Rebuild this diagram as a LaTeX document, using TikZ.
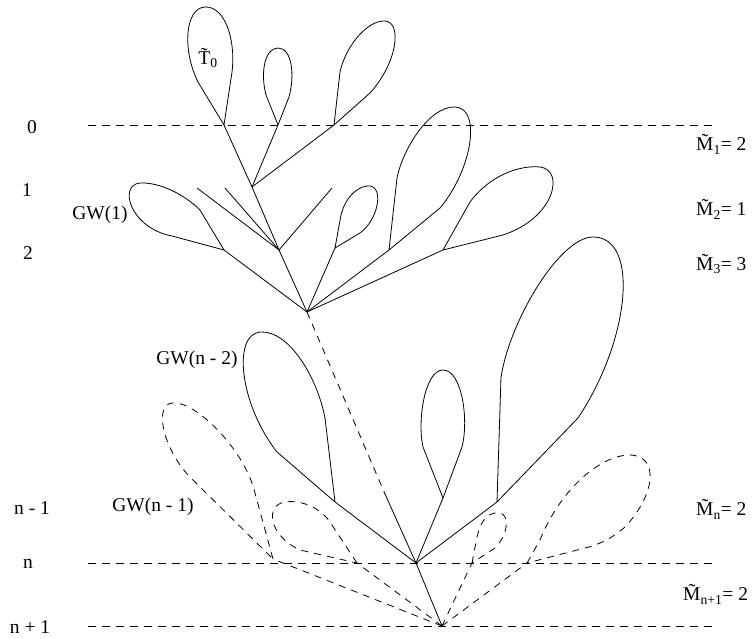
\documentclass[tikz,border=0pt]{standalone}
\usepackage{fontspec}
\setmainfont{Liberation Serif}
\begin{document}
\begin{tikzpicture}[x=1pt,y=-1pt,
  edge/.style={line width=0.8pt},
  dedge/.style={line width=0.8pt, dash pattern=on 7pt off 6pt},
  levline/.style={line width=0.8pt, dash pattern=on 8pt off 6pt},
  lbl/.style={font=\fontsize{19.5}{22}\selectfont, inner sep=0pt}]
\useasboundingbox (0,0) rectangle (755,639);
% level lines
\coordinate (L0a) at (88,125); \coordinate (L0b) at (715,125);
\coordinate (Lna) at (88,563); \coordinate (Lnb) at (715,563);
\coordinate (Lma) at (88,626); \coordinate (Lmb) at (712,626);
\draw[levline] (L0a) -- (L0b);
\draw[levline] (Lna) -- (Lnb);
\draw[levline] (Lma) -- (Lmb);
% tree points
\coordinate (a1) at (224,125); \coordinate (a2) at (278,125); \coordinate (a3) at (334,125);
\coordinate (N1) at (252,187); \coordinate (N2) at (279,250); \coordinate (R) at (307,312);
\coordinate (f1) at (197,188); \coordinate (f2) at (225,188); \coordinate (f3) at (332,188);
\coordinate (b1) at (224,250); \coordinate (b2) at (335,248); \coordinate (b3) at (389,250); \coordinate (b4) at (443,250);
\coordinate (mid) at (385,494); \coordinate (Rn) at (416,563); \coordinate (Rb) at (442,626);
\coordinate (c1) at (335,502); \coordinate (c2) at (443,498); \coordinate (c3) at (497,502);
\coordinate (d1) at (273,559); \coordinate (d2) at (357,563); \coordinate (d3) at (472,563); \coordinate (d4) at (527,563);
% edges
\draw[edge] (a1) -- (N1) -- (N2) -- (R);
\draw[edge] (N1) -- (a2);
\draw[edge] (N1) -- (a3);
\draw[edge] (N2) -- (f1);
\draw[edge] (N2) -- (f2);
\draw[edge] (N2) -- (f3);
\draw[edge] (R) -- (b1);
\draw[edge] (R) -- (b2);
\draw[edge] (R) -- (b3);
\draw[edge] (R) -- (b4);
\draw[dedge] (R) -- (mid);
\draw[edge] (mid) -- (Rn) -- (Rb);
\draw[edge] (Rn) -- (c1);
\draw[edge] (Rn) -- (c2);
\draw[edge] (Rn) -- (c3);
\draw[dedge] (Rb) -- (d1);
\draw[dedge] (Rb) -- (d2);
\draw[dedge] (Rb) -- (d3);
\draw[dedge] (Rb) -- (d4);
% solid loops
\draw[edge] (a1) -- (198,82) .. controls (182,50) and (185,8) .. (205,7) .. controls (225,6) and (236,40) .. (232,72) -- (a1);
\draw[edge] (a2) -- (266,95) .. controls (260,72) and (265,48) .. (278,48) .. controls (292,48) and (295,75) .. (289,97) -- (a2);
\draw[edge] (a3) -- (340,72) .. controls (346,45) and (368,20) .. (385,21) .. controls (402,22) and (398,62) .. (370,93) -- (a3);
\draw[edge] (b1) -- (200,210) .. controls (185,195) and (160,182) .. (140,183) .. controls (118,185) and (130,228) .. (172,236) -- (b1);
\draw[edge] (b2) -- (341,215) .. controls (346,195) and (360,185) .. (370,186) .. controls (384,188) and (378,220) .. (360,233) -- (b2);
\draw[edge] (b3) -- (397,178) .. controls (403,148) and (430,106) .. (455,107) .. controls (482,108) and (472,170) .. (440,208) -- (b3);
\draw[edge] (b4) -- (470,202) .. controls (490,175) and (520,165) .. (540,167) .. controls (565,170) and (555,218) .. (503,235) -- (b4);
\draw[edge] (c1) -- (325,418) .. controls (318,380) and (290,330) .. (260,332) .. controls (232,335) and (240,405) .. (277,452) -- (c1);
\draw[edge] (c2) -- (423,447) .. controls (417,420) and (425,370) .. (443,370) .. controls (462,370) and (469,420) .. (462,447) -- (c2);
\draw[edge] (c3) -- (501,377) .. controls (510,320) and (560,237) .. (593,237) .. controls (640,237) and (630,340) .. (578,418) -- (c3);
% dashed loops
\draw[dedge] (d1) -- (255,493) .. controls (245,450) and (195,400) .. (172,403) .. controls (152,406) and (165,455) .. (195,482) -- (d1);
\draw[dedge] (d2) -- (330,522) .. controls (318,505) and (298,500) .. (285,502) .. controls (265,505) and (268,535) .. (300,550) -- (d2);
\draw[dedge] (d3) -- (477,537) .. controls (482,515) and (492,512) .. (500,513) .. controls (510,515) and (508,535) .. (495,548) -- (d3);
\draw[dedge] (d4) -- (540,540) .. controls (560,490) and (600,455) .. (630,455) .. controls (660,456) and (655,495) .. (625,527) .. controls (610,540) and (597,545) .. (585,548) -- (d4);
% labels
\node[lbl] (t0) at (208,58) {\~{T}\textsubscript{0}};
\node[lbl] (gw1) at (100,215) {GW(1)};
\node[lbl] (gwn2) at (197,360) {GW(n - 2)};
\node[lbl] (gwn1) at (153,507) {GW(n - 1)};
\node[lbl] (l0) at (32,127) {0};
\node[lbl] (l1) at (27,190) {1};
\node[lbl] (l2) at (28,253) {2};
\node[lbl] (lnm) at (32,508) {n - 1};
\node[lbl] (ln) at (28,564) {n};
\node[lbl] (lnp) at (30,627) {n + 1};
\node[lbl,anchor=west] (m1) at (696,144) {\~{M}\textsubscript{1}= 2};
\node[lbl,anchor=west] (m2) at (696,209) {\~{M}\textsubscript{2}= 1};
\node[lbl,anchor=west] (m3) at (696,264) {\~{M}\textsubscript{3}= 3};
\node[lbl,anchor=west] (mn) at (696,509) {\~{M}\textsubscript{n}= 2};
\node[lbl,anchor=west] (mnp) at (683,594) {\~{M}\textsubscript{n+1}= 2};
\end{tikzpicture}
\end{document}
